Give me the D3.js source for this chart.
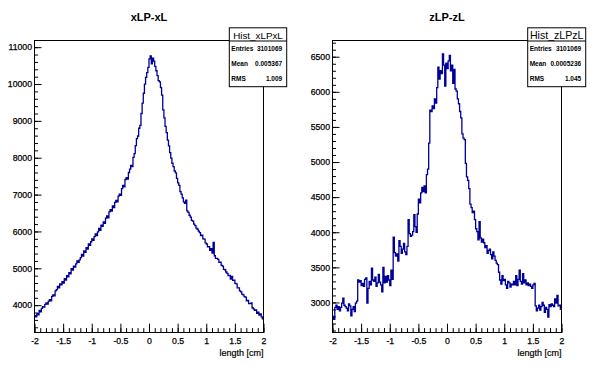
<!DOCTYPE html>
<html>
<head>
<meta charset="utf-8">
<script src="https://cdn.jsdelivr.net/npm/d3@7"></script>
<style>
  body { margin: 0; background: #fff; }
  svg { display: block; font-family: "Liberation Sans", Arial, Helvetica, sans-serif; }
</style>
</head>
<body>
<div id="chart"></div>
<script>
// 200 bins between -2 and 2 cm
const xMin = -2, xMax = 2;

const xlpxl = [
  3715, 3680, 3770, 3740, 3860, 3820, 3910, 3960, 3950, 4020,
  4060, 4030, 4110, 4150, 4120, 4240, 4280, 4250, 4390, 4420,
  4510, 4470, 4580, 4550, 4640, 4600, 4720, 4680, 4800, 4770,
  4880, 4850, 4990, 4950, 5060, 5030, 5120, 5200, 5160, 5230,
  5290, 5380, 5330, 5470, 5430, 5560, 5520, 5660, 5620, 5720,
  5800, 5760, 5860, 5930, 5890, 5990, 6080, 6030, 6170, 6140,
  6260, 6220, 6360, 6420, 6370, 6530, 6590, 6550, 6690, 6650,
  6790, 6840, 6800, 6960, 7010, 6980, 7160, 7250, 7210, 7410,
  7460, 7420, 7600, 7690, 7790, 7760, 8010, 8110, 8330, 8520,
  8590, 8800, 8880, 9200, 9480, 9750, 10000, 10180, 10310, 10450,
  10680, 10760, 10550, 10700, 10620, 10480, 10360, 10230, 10090, 10060,
  9900, 9700, 9300, 9080, 8850, 8680, 8480, 8320, 8140, 7990,
  7850, 7760, 7640, 7590, 7440, 7320, 7250, 7080, 7010, 6910,
  6800, 6760, 6850, 6560, 6520, 6440, 6390, 6300, 6280, 6200,
  6160, 6090, 6060, 6010, 5970, 5890, 5900, 5800, 5790, 5690,
  5660, 5580, 5590, 5490, 5530, 5410, 5700, 5340, 5270, 5270,
  5240, 5160, 5170, 5080, 5060, 4970, 4960, 4900, 4860, 4800,
  4810, 4710, 4780, 4670, 4680, 4590, 4580, 4470, 4470, 4390,
  4360, 4300, 4280, 4230, 4220, 4120, 4130, 4040, 4040, 4060,
  3930, 3900, 3860, 3870, 3780, 3810, 3730, 3760, 3680, 3630
];

const zlpzl = [
  2800, 2760, 2930, 2960, 2900, 2940, 2880, 2930, 2990, 3060,
  2960, 2940, 2920, 2880, 2980, 2950, 2810, 2900, 2940, 2870,
  2990, 3020, 3320, 3290, 3310, 3240, 3270, 3230, 3330, 3350,
  2990, 3200, 3300, 3250, 3490, 3320, 3300, 3360, 3230, 3280,
  3400, 3290, 3250, 3150, 3500, 3280, 3370, 3290, 3380, 3320,
  3240, 3460, 3330, 3930, 3710, 3660, 3690, 3590, 3880, 3800,
  3700, 3760, 3840, 3720, 3680, 3800, 4180, 3980, 3940, 3960,
  4010, 4250, 4080, 4000, 4260, 4470, 4420, 4560, 4640, 4580,
  4660, 4560, 4820, 4900, 5270, 5740, 5720, 5800, 5760, 5900,
  5840, 6060, 6350, 6180, 6300, 6260, 6540, 6380, 6080, 6410,
  6330, 6440, 6520, 6300, 6380, 6120, 6320, 6040, 6010, 5900,
  5830, 5720, 5630, 5400, 5340, 5320, 4980, 4790, 4740, 4620,
  4400, 4350, 4280, 4300, 4180, 4050, 4010, 3890, 4150, 3920,
  3860, 3900, 3850, 3780, 3810, 3700, 3740, 3760, 3680, 3620,
  3720, 3660, 3600, 3560, 3540, 3430, 3320, 3260, 3380, 3310,
  3330, 3250, 3200, 3300, 3280, 3220, 3260, 3250, 3300, 3250,
  3380, 3240, 3330, 3460, 3300, 3260, 3410, 3280, 3320, 3250,
  3280, 3240, 3260, 3230, 3200, 3250, 3270, 2950, 2880, 2920,
  2960, 2890, 2940, 3000, 2960, 2860, 2930, 2900, 2790, 2970,
  2940, 2980, 2960, 2940, 3050, 2990, 3100, 2950, 2960, 2900
];

const xTicks = [-2, -1.5, -1, -0.5, 0, 0.5, 1, 1.5, 2];
const xTickLabels = ["-2", "-1.5", "-1", "-0.5", "0", "0.5", "1", "1.5", "2"];
const xlpxlYTicks = [4000, 5000, 6000, 7000, 8000, 9000, 10000, 11000];
const zlpzlYTicks = [3000, 3500, 4000, 4500, 5000, 5500, 6000, 6500];

const statNames = ["Entries", "Mean", "RMS"];
const xlpxlStats = ["3101069", "0.005367", "1.009"];
const zlpzlStats = ["3101069", "0.0005236", "1.045"];

const W = 596, H = 374;
const frameTop = 40.5, frameBottom = 332.5;
const lineColor = "#000099";

const svg = d3.select("#chart").append("svg")
    .attr("width", W)
    .attr("height", H);

svg.append("rect").attr("width", W).attr("height", H).attr("fill", "#fff");

function styleLabels(a, size) {
    a.selectAll("text")
        .attr("font-size", size)
        .attr("font-family", null)
        .attr("fill", "#000")
        .attr("stroke", "#000")
        .attr("stroke-width", 0.25);
}

function drawPad(p) {
    const x = d3.scaleLinear().domain([xMin, xMax]).range([p.left, p.right]);
    const y = d3.scaleLinear().domain(p.yDomain).range([frameBottom, frameTop]);
    const g = svg.append("g");

    // minor ticks first, majors over them
    g.append("g")
        .attr("transform", `translate(0,${frameBottom})`)
        .call(d3.axisBottom(x).tickValues(d3.range(-2, 2.001, 0.1)).tickSize(-4.4).tickSizeOuter(0).tickFormat(""))
        .call(a => a.select(".domain").remove());

    g.append("g")
        .attr("transform", `translate(0,${frameBottom})`)
        .call(d3.axisBottom(x).tickValues(xTicks).tickSize(-8.8).tickSizeOuter(0).tickPadding(5)
            .tickFormat((d, i) => xTickLabels[i]))
        .call(a => a.select(".domain").remove())
        .call(a => styleLabels(a, 8.7));

    g.append("g")
        .attr("transform", `translate(${p.left},0)`)
        .call(d3.axisLeft(y).tickValues(d3.range(p.minorStart, p.yDomain[1], p.minorStep)).tickSize(-3.5).tickSizeOuter(0).tickFormat(""))
        .call(a => a.select(".domain").remove());

    g.append("g")
        .attr("transform", `translate(${p.left},0)`)
        .call(d3.axisLeft(y).tickValues(p.yTicks).tickSize(-7).tickSizeOuter(0).tickPadding(2.5)
            .tickFormat(d3.format("d")))
        .call(a => a.select(".domain").remove())
        .call(a => styleLabels(a, 8.7));

    g.selectAll(".tick line").attr("stroke", "#000");

    // histogram outline
    const w = (xMax - xMin) / p.values.length;
    const pts = p.values.flatMap((v, i) => [[xMin + i * w, v], [xMin + (i + 1) * w, v]]);
    g.append("path")
        .datum(pts)
        .attr("fill", "none")
        .attr("stroke", lineColor)
        .attr("stroke-width", 1.3)
        .attr("d", d3.line().x(d => x(d[0])).y(d => y(d[1])));

    g.append("rect")
        .attr("x", p.left).attr("y", frameTop)
        .attr("width", p.right - p.left).attr("height", frameBottom - frameTop)
        .attr("fill", "none").attr("stroke", "#000");

    g.append("text")
        .attr("x", (p.left + p.right) / 2).attr("y", 21)
        .attr("text-anchor", "middle")
        .attr("font-size", 11).attr("font-weight", "bold")
        .text(p.title);

    g.append("text")
        .attr("x", p.right).attr("y", 356)
        .attr("text-anchor", "end")
        .attr("font-size", 9)
        .attr("stroke", "#000").attr("stroke-width", 0.2)
        .text("length [cm]");

    // stats box
    const bx0 = p.box[0], bx1 = p.box[1], by0 = 27.8, by1 = 86.7, byT = 41;
    const sb = g.append("g");
    sb.append("rect")
        .attr("x", bx0).attr("y", by0).attr("width", bx1 - bx0).attr("height", by1 - by0)
        .attr("fill", "#fff").attr("stroke", "#000");
    sb.append("line")
        .attr("x1", bx0).attr("x2", bx1).attr("y1", byT).attr("y2", byT)
        .attr("stroke", "#000");
    sb.append("text")
        .attr("x", (bx0 + bx1) / 2).attr("y", 38.5)
        .attr("text-anchor", "middle")
        .attr("font-size", p.boxTitleSize)
        .text(p.name);
    const rowH = (by1 - byT) / statNames.length;
    statNames.forEach((s, i) => {
        const cy = byT + rowH * (i + 0.5);
        sb.append("text").attr("x", bx0 + 2).attr("y", cy).attr("dy", "0.35em")
            .attr("font-size", 6.5).attr("font-weight", "bold").text(s);
        sb.append("text").attr("x", bx1 - 4.5).attr("y", cy).attr("dy", "0.35em")
            .attr("text-anchor", "end")
            .attr("font-size", 6.5).attr("font-weight", "bold").text(p.stats[i]);
    });
}

drawPad({
    left: 34.5, right: 263.5, yDomain: [3258, 11181], yTicks: xlpxlYTicks,
    minorStart: 3400, minorStep: 200, values: xlpxl, title: "xLP-xL",
    name: "Hist_xLPxL", box: [229.3, 286.7], boxTitleSize: 9.8, stats: xlpxlStats
});

drawPad({
    left: 332.5, right: 561.5, yDomain: [2572, 6731], yTicks: zlpzlYTicks,
    minorStart: 2600, minorStep: 100, values: zlpzl, title: "zLP-zL",
    name: "Hist_zLPzL", box: [527.7, 585.7], boxTitleSize: 10.6, stats: zlpzlStats
});
</script>
</body>
</html>
